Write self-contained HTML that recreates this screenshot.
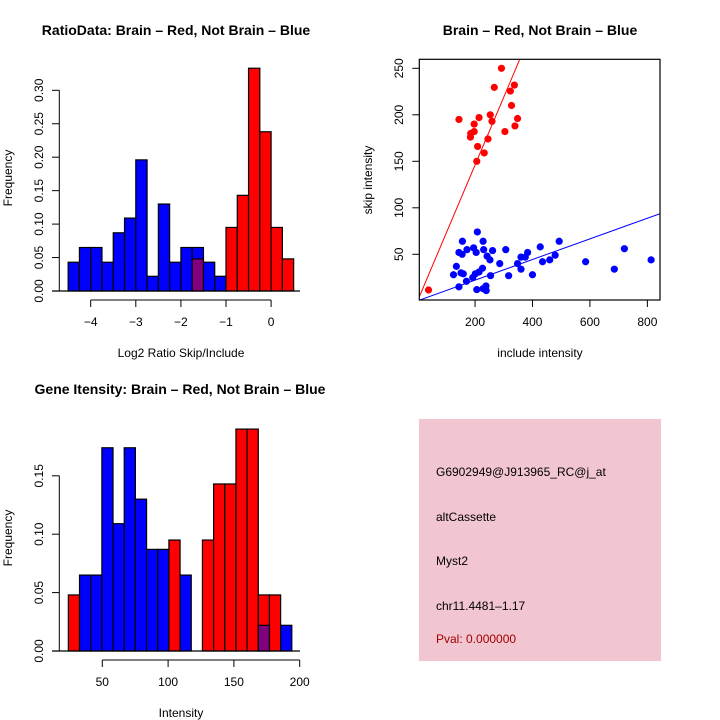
<!DOCTYPE html>
<html><head><meta charset="utf-8"><style>
body{margin:0;background:#fff}
svg{display:block;font-family:"Liberation Sans",sans-serif}
</style></head><body>
<svg id="c" width="720" height="720" viewBox="0 0 720 720">
<rect width="720" height="720" fill="#fff"/>
<text x="176" y="35" text-anchor="middle" font-size="14" font-weight="bold">RatioData: Brain – Red, Not Brain – Blue</text>
<text x="540" y="35" text-anchor="middle" font-size="14" font-weight="bold">Brain – Red, Not Brain – Blue</text>
<text x="180" y="394" text-anchor="middle" font-size="14" font-weight="bold">Gene Itensity: Brain – Red, Not Brain – Blue</text>
<text x="181" y="357" text-anchor="middle" font-size="12">Log2 Ratio Skip/Include</text>
<text x="540" y="357" text-anchor="middle" font-size="12">include intensity</text>
<text x="181" y="717" text-anchor="middle" font-size="12">Intensity</text>
<text transform="translate(12,178) rotate(-90)" text-anchor="middle" font-size="12">Frequency</text>
<text transform="translate(372,180) rotate(-90)" text-anchor="middle" font-size="12">skip intensity</text>
<text transform="translate(12,538) rotate(-90)" text-anchor="middle" font-size="12">Frequency</text>
<g id="p1"></g>
<g id="p2"></g>
<g id="p3"></g>
<g>
<rect x="419" y="419" width="242" height="242" fill="#f2c6d0"/>
<text x="436" y="476" font-size="12">G6902949@J913965_RC@j_at</text>
<text x="436" y="521" font-size="12">altCassette</text>
<text x="436" y="565" font-size="12">Myst2</text>
<text x="436" y="610" font-size="12">chr11.4481–1.17</text>
<text x="436" y="643" font-size="12" fill="#a00000">Pval: 0.000000</text>
</g>
</svg>
<script>
const ratioBinStart = -4.5, ratioBinWidth = 0.25;
const ratioBlue = [0.043,0.065,0.065,0.043,0.087,0.109,0.196,0.022,0.130,0.043,0.065,0.065,0.043,0.022];
const ratioRed = [0,0,0,0,0,0,0,0,0,0,0,0.048,0,0,0.095,0.143,0.333,0.238,0.095,0.048];
const ratioXTicks = [-4,-3,-2,-1,0];
const ratioYTicks = [0,0.05,0.10,0.15,0.20,0.25,0.30];

const intBinStart = 24.2, intBinWidth = 8.49;
const intBlue = [0,0.065,0.065,0.174,0.109,0.174,0.130,0.087,0.087,0,0.065,0,0,0,0,0,0,0.022,0,0.022];
const intRed = [0.048,0,0,0,0,0,0,0,0,0.095,0,0,0.095,0.143,0.143,0.190,0.190,0.048,0.048,0];
const intXTicks = [50,100,150,200];
const intYTicks = [0,0.05,0.10,0.15];

const redX = [38,292,267,323,337,327,144,214,253,259,348,339,197,197,304,185,184,209,245,232,206];
const redY = [11.6,250,229.5,225.5,232,210,195,197,200,193,196,188,190,182,182,180,176,166,174,159,150];
const blueX = [208,156,228,493,427,720,195,144,155,172,204,230,261,307,242,252,286,348,360,375,383,435,460,479,585,813,135,125,151,159,170,192,201,214,226,254,317,360,400,685,144,206,228,239,238];
const blueY = [74,64,64,64,58,56,57,52,50,55,52,55,54,55,48,44,40,40,47,47,52,42,44,49,42,44,37,28,30,29,21,25,29,31,35,27,27,34,28,34,15,12,13,11,16];
const redSlope = 0.73, blueSlope = 0.111;
const scatXTicks = [200,400,600,800];
const scatYTicks = [50,100,150,200,250];

const NS = 'http://www.w3.org/2000/svg';
function mk(parent, tag, attrs){const e=document.createElementNS(NS,tag);for(const k in attrs)e.setAttribute(k,attrs[k]);parent.appendChild(e);return e;}

function hist(g, start, w, blue, red, xs, ys, xTicks, yTicks, y0px, yPerUnit, x0val, x0px, pxPerUnit, axisY, purpleOverlap){
  const X=v=>x0px+(v-x0val)*pxPerUnit, Y=v=>y0px-v*yPerUnit;
  const n=Math.max(blue.length, red.length);
  for(let i=0;i<n;i++){
    const b=blue[i]||0, r=red[i]||0;
    const xa=X(start+i*w), xb=X(start+(i+1)*w);
    const drawBar=(v,col,nm)=>{const e=mk(g,'rect',{x:xa,y:Y(v),width:xb-xa,height:Y(0)-Y(v),fill:col,stroke:'#000','stroke-width':1.2});
      
      };
    if(b>0&&r>0){
      if(b>=r){drawBar(b,'#0000ff','bar-blue-'+i);drawBar(r,'#800080','bar-overlap-'+i);}
      else{drawBar(r,'#ff0000','bar-red-'+i);drawBar(b,'#800080','bar-overlap-'+i);}
    } else if(b>0) drawBar(b,'#0000ff','bar-blue-'+i);
    else if(r>0) drawBar(r,'#ff0000','bar-red-'+i);
  }
  const bl=mk(g,'line',{x1:52,x2:300,y1:Y(0),y2:Y(0),stroke:'#000','stroke-width':1.2});
  
  
  // y axis
  const ya=mk(g,'line',{x1:59.3,x2:59.3,y1:Y(yTicks[0]),y2:Y(yTicks[yTicks.length-1]),stroke:'#000'});
  
  
  yTicks.forEach(t=>{mk(g,'line',{x1:52,x2:59.3,y1:Y(t),y2:Y(t),stroke:'#000'});
    const tx=mk(g,'text',{transform:`translate(43,${Y(t)}) rotate(-90)`,'text-anchor':'middle','font-size':12});
    tx.textContent=t.toFixed(2);
    
    });
  const xa=mk(g,'line',{x1:X(xTicks[0]),x2:X(xTicks[xTicks.length-1]),y1:axisY,y2:axisY,stroke:'#000'});
  
  
  xTicks.forEach(t=>{mk(g,'line',{x1:X(t),x2:X(t),y1:axisY,y2:axisY+7,stroke:'#000'});
    const tx=mk(g,'text',{x:X(t),y:axisY+26,'text-anchor':'middle','font-size':12});
    tx.textContent=t<0?'\u2212'+(-t):String(t);
    
    });
}
hist(document.getElementById('p1'), ratioBinStart, ratioBinWidth, ratioBlue, ratioRed, null,null, ratioXTicks, ratioYTicks, 291, 33.45/0.05, -4, 90.7, 45.1, 300);
hist(document.getElementById('p3'), intBinStart, intBinWidth, intBlue, intRed, null,null, intXTicks, intYTicks, 651, 58.4/0.05, 50, 102.3, 1.316, 660);

// scatter
(function(){
  const g=document.getElementById('p2');
  const L=419.3,R=660,T=59.3,B=300;
  const X=v=>417.6+v*0.2872, Y=v=>300.8-v*0.93;
  const xmin=(L-417.6)/0.2872, xmax=(R-417.6)/0.2872;
  const cp=mk(g,'clipPath',{id:'sc'}); mk(cp,'rect',{x:L,y:T,width:R-L,height:B-T});
  const lg=mk(g,'g',{'clip-path':'url(#sc)'});
  const rl=mk(lg,'line',{x1:X(xmin),y1:Y(xmin*redSlope),x2:X(xmax),y2:Y(xmax*redSlope),stroke:'#ff0000'});
  
  
  const bl=mk(lg,'line',{x1:X(xmin),y1:Y(xmin*blueSlope),x2:X(xmax),y2:Y(xmax*blueSlope),stroke:'#0000ff'});
  
  
  redX.forEach((x,i)=>{const c=mk(g,'circle',{cx:X(x),cy:Y(redY[i]),r:3.6,fill:'#ff0000'});
    
    });
  blueX.forEach((x,i)=>{const c=mk(g,'circle',{cx:X(x),cy:Y(blueY[i]),r:3.6,fill:'#0000ff'});
    
    });
  const box=mk(g,'rect',{x:L,y:T,width:R-L,height:B-T,fill:'none',stroke:'#000','stroke-width':1.2});
  
  
  scatXTicks.forEach(t=>{mk(g,'line',{x1:X(t),x2:X(t),y1:B,y2:B+7,stroke:'#000'});
    const tx=mk(g,'text',{x:X(t),y:B+26,'text-anchor':'middle','font-size':12});tx.textContent=t;
    
    });
  scatYTicks.forEach(t=>{mk(g,'line',{x1:L-7,x2:L,y1:Y(t),y2:Y(t),stroke:'#000'});
    const tx=mk(g,'text',{transform:`translate(403,${Y(t)}) rotate(-90)`,'text-anchor':'middle','font-size':12});tx.textContent=t;
    
    });
})();
</script>
</body></html>
